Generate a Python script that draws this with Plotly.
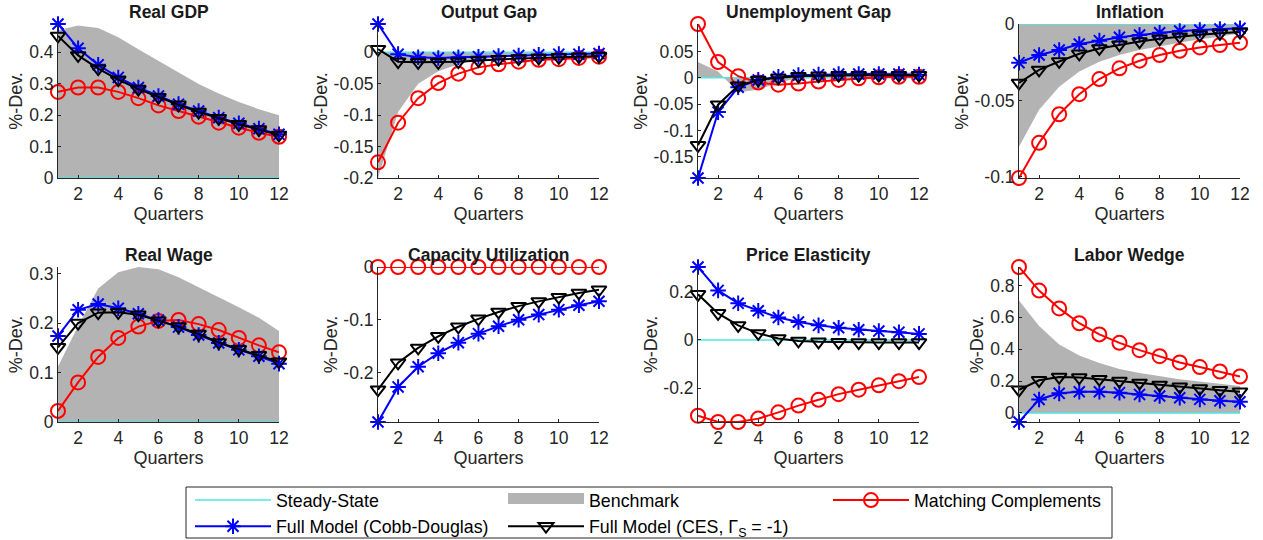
import plotly.graph_objects as go

# ---------------------------------------------------------------------------
# Impulse responses, 12 quarters, %-deviation from steady state
# ---------------------------------------------------------------------------
quarters = list(range(1, 13))

# Real GDP
gdp_bench = [0.470, 0.485, 0.477, 0.448, 0.410, 0.373, 0.336, 0.299, 0.269, 0.242, 0.219, 0.200]
gdp_match = [0.274, 0.288, 0.288, 0.274, 0.254, 0.231, 0.213, 0.195, 0.176, 0.160, 0.144, 0.131]
gdp_cd = [0.490, 0.413, 0.360, 0.320, 0.288, 0.261, 0.235, 0.213, 0.192, 0.174, 0.157, 0.139]
gdp_ces = [0.452, 0.390, 0.348, 0.313, 0.283, 0.257, 0.233, 0.210, 0.190, 0.171, 0.154, 0.137]

# Output gap
gap_bench = [-0.200, -0.095, -0.050, -0.030, -0.019, -0.012, -0.008, -0.005, -0.004, -0.003, -0.002, -0.001]
gap_match = [-0.175, -0.112, -0.073, -0.049, -0.034, -0.024, -0.019, -0.015, -0.012, -0.011, -0.009, -0.007]
gap_cd = [0.045, -0.003, -0.008, -0.009, -0.008, -0.007, -0.006, -0.005, -0.004, -0.003, -0.003, -0.002]
gap_ces = [0.005, -0.015, -0.016, -0.016, -0.015, -0.013, -0.011, -0.010, -0.009, -0.008, -0.007, -0.006]

# Unemployment gap
unemp_bench = [0.030, 0.012, -0.028, -0.022, -0.010, 0.000, 0.005, 0.008, 0.010, 0.010, 0.010, 0.010]
unemp_match = [0.102, 0.030, 0.003, -0.009, -0.013, -0.011, -0.007, -0.004, -0.001, 0.001, 0.002, 0.002]
unemp_cd = [-0.190, -0.065, -0.018, -0.004, 0.002, 0.005, 0.006, 0.007, 0.007, 0.007, 0.007, 0.006]
unemp_ces = [-0.128, -0.051, -0.015, -0.004, 0.000, 0.003, 0.004, 0.005, 0.005, 0.005, 0.005, 0.005]

# Inflation
infl_bench = [-0.0803, -0.056, -0.041, -0.031, -0.0247, -0.0203, -0.017, -0.0144, -0.0122, -0.010, -0.0083, -0.0061]
infl_match = [-0.1007, -0.0777, -0.059, -0.0459, -0.036, -0.029, -0.024, -0.0203, -0.0175, -0.0153, -0.0138, -0.0122]
infl_cd = [-0.0253, -0.0203, -0.017, -0.0131, -0.0109, -0.0087, -0.0072, -0.0057, -0.0046, -0.0039, -0.0033, -0.0028]
infl_ces = [-0.0385, -0.030, -0.0245, -0.0195, -0.016, -0.0135, -0.0115, -0.0097, -0.0083, -0.0071, -0.0061, -0.0053]

# Real wage
wage_bench = [0.1125, 0.194, 0.270, 0.303, 0.3135, 0.309, 0.293, 0.273, 0.252, 0.232, 0.211, 0.184]
wage_match = [0.0225, 0.080, 0.1316, 0.170, 0.193, 0.2045, 0.2065, 0.198, 0.186, 0.170, 0.155, 0.141]
wage_cd = [0.174, 0.227, 0.2386, 0.230, 0.219, 0.206, 0.192, 0.176, 0.160, 0.146, 0.133, 0.118]
wage_ces = [0.151, 0.200, 0.221, 0.222, 0.217, 0.205, 0.193, 0.178, 0.161, 0.147, 0.135, 0.122]

# Capacity utilization
util_bench = [0.0] * 12
util_match = [0.0] * 12
util_cd = [-0.293, -0.2267, -0.1886, -0.163, -0.143, -0.126, -0.112, -0.0997, -0.090, -0.0806, -0.0724, -0.0648]
util_ces = [-0.232, -0.181, -0.153, -0.131, -0.113, -0.098, -0.085, -0.074, -0.065, -0.057, -0.049, -0.043]

# Price elasticity
elast_bench = [0.0] * 12
elast_match = [-0.314, -0.340, -0.340, -0.326, -0.300, -0.272, -0.248, -0.2246, -0.206, -0.188, -0.171, -0.154]
elast_cd = [0.302, 0.205, 0.1516, 0.1207, 0.0926, 0.0744, 0.0604, 0.0505, 0.042, 0.0365, 0.032, 0.025]
elast_ces = [0.189, 0.110, 0.060, 0.027, 0.006, -0.004, -0.008, -0.010, -0.011, -0.011, -0.011, -0.011]

# Labor wedge
wedge_bench = [0.705, 0.546, 0.430, 0.360, 0.313, 0.275, 0.250, 0.2286, 0.2116, 0.197, 0.182, 0.169]
wedge_match = [0.916, 0.768, 0.656, 0.563, 0.493, 0.440, 0.394, 0.356, 0.317, 0.288, 0.260, 0.2286]
wedge_cd = [-0.057, 0.0847, 0.1228, 0.133, 0.133, 0.127, 0.116, 0.106, 0.095, 0.085, 0.076, 0.070]
wedge_ces = [0.145, 0.205, 0.225, 0.222, 0.212, 0.200, 0.188, 0.176, 0.164, 0.153, 0.143, 0.133]

# Tick marks
x_ticks = [2, 4, 6, 8, 10, 12]
gdp_ticks, gdp_labels = [0, 0.1, 0.2, 0.3, 0.4], ["0", "0.1", "0.2", "0.3", "0.4"]
gap_ticks, gap_labels = [-0.2, -0.15, -0.1, -0.05, 0], ["-0.2", "-0.15", "-0.1", "-0.05", "0"]
unemp_ticks, unemp_labels = [-0.15, -0.1, -0.05, 0, 0.05], ["-0.15", "-0.1", "-0.05", "0", "0.05"]
infl_ticks, infl_labels = [-0.1, -0.05, 0], ["-0.1", "-0.05", "0"]
wage_ticks, wage_labels = [0, 0.1, 0.2, 0.3], ["0", "0.1", "0.2", "0.3"]
util_ticks, util_labels = [-0.2, -0.1, 0], ["-0.2", "-0.1", "0"]
elast_ticks, elast_labels = [-0.2, 0, 0.2], ["-0.2", "0", "0.2"]
wedge_ticks, wedge_labels = [0, 0.2, 0.4, 0.6, 0.8], ["0", "0.2", "0.4", "0.6", "0.8"]

panels = [
    ("Real GDP", gdp_bench, gdp_match, gdp_cd, gdp_ces, gdp_ticks, gdp_labels),
    ("Output Gap", gap_bench, gap_match, gap_cd, gap_ces, gap_ticks, gap_labels),
    ("Unemployment Gap", unemp_bench, unemp_match, unemp_cd, unemp_ces, unemp_ticks, unemp_labels),
    ("Inflation", infl_bench, infl_match, infl_cd, infl_ces, infl_ticks, infl_labels),
    ("Real Wage", wage_bench, wage_match, wage_cd, wage_ces, wage_ticks, wage_labels),
    ("Capacity Utilization", util_bench, util_match, util_cd, util_ces, util_ticks, util_labels),
    ("Price Elasticity", elast_bench, elast_match, elast_cd, elast_ces, elast_ticks, elast_labels),
    ("Labor Wedge", wedge_bench, wedge_match, wedge_cd, wedge_ces, wedge_ticks, wedge_labels),
]

# ---------------------------------------------------------------------------
# Styling / geometry
# ---------------------------------------------------------------------------
W, H = 1263, 540
FONT = "Liberation Sans, Arial, Helvetica, sans-serif"
AX_COLOR = "#262626"
GRAY = "#b3b3b3"
CYAN = "#4fe6e6"
BLUE = "#0000ff"
RED = "#ff0000"
BLACK = "#000000"

col_left_px = [58, 378, 698, 1019]
col_width_px = 221
row_px = [(24, 178), (267, 422)]

# legend frame and the three legend columns (pixels)
legend_box_px = (186, 487, 1112, 538)
legend_col_px = [190, 503, 828]
legend_top_px = 482

fig = go.Figure()
layout = dict(
    width=W, height=H,
    margin=dict(l=0, r=0, t=0, b=0, autoexpand=False),
    paper_bgcolor="white", plot_bgcolor="white",
    font=dict(family=FONT, size=17, color=AX_COLOR),
    annotations=[],
    shapes=[],
)

for i, (title, bench, match, cd, ces, yt, yl) in enumerate(panels):
    r, c = divmod(i, 4)
    n = i + 1
    xa, ya = ("x" if n == 1 else f"x{n}"), ("y" if n == 1 else f"y{n}")

    fig.add_trace(go.Scatter(
        x=quarters, y=bench, xaxis=xa, yaxis=ya, mode="lines", fill="tozeroy",
        fillcolor=GRAY, line=dict(width=0, color=GRAY), name="Benchmark",
        showlegend=False, hoverinfo="skip"))
    fig.add_trace(go.Scatter(
        x=quarters, y=[0.0] * len(quarters), xaxis=xa, yaxis=ya, mode="lines",
        line=dict(width=1.5, color=CYAN), name="Steady-State",
        legend="legend", legendrank=1, showlegend=(i == 0)))
    fig.add_trace(go.Scatter(
        x=quarters, y=match, xaxis=xa, yaxis=ya, mode="lines+markers",
        line=dict(width=2, color=RED),
        marker=dict(symbol="circle-open", size=14, color=RED, line=dict(width=2, color=RED)),
        name="Matching Complements", legend="legend3", showlegend=(i == 0), cliponaxis=False))
    fig.add_trace(go.Scatter(
        x=quarters, y=cd, xaxis=xa, yaxis=ya, mode="lines+markers",
        line=dict(width=2, color=BLUE),
        marker=dict(symbol="asterisk-open", size=13, color=BLUE, line=dict(width=2, color=BLUE)),
        name="Full Model (Cobb-Douglas)", legend="legend", legendrank=2,
        showlegend=(i == 0), cliponaxis=False))
    fig.add_trace(go.Scatter(
        x=quarters, y=ces, xaxis=xa, yaxis=ya, mode="lines+markers",
        line=dict(width=2, color=BLACK),
        marker=dict(symbol="triangle-down-open", size=13, color=BLACK, line=dict(width=2, color=BLACK)),
        name="Full Model (CES, \u0393<sub>S</sub> = -1)", legend="legend2", legendrank=2,
        showlegend=(i == 0), cliponaxis=False))

    # tight limits over every series and the zero line
    everything = bench + match + cd + ces + [0.0]
    y_lo, y_hi = min(everything), max(everything)

    x0 = col_left_px[c] / W
    x1 = (col_left_px[c] + col_width_px) / W
    top_px, bot_px = row_px[r]
    y0 = 1 - bot_px / H
    y1 = 1 - top_px / H

    axis_common = dict(
        showline=True, linecolor=AX_COLOR, linewidth=1, mirror=False,
        showgrid=False, zeroline=False, ticks="inside", ticklen=3,
        tickwidth=1, tickcolor=AX_COLOR,
        tickfont=dict(family=FONT, size=17.5, color=AX_COLOR),
    )
    layout["xaxis" if n == 1 else f"xaxis{n}"] = dict(
        axis_common, domain=[x0, x1], anchor=ya, range=[1, 12],
        tickmode="array", tickvals=x_ticks, ticktext=[str(v) for v in x_ticks],
        title=dict(text="Quarters", font=dict(family=FONT, size=18, color=AX_COLOR), standoff=3),
    )
    layout["yaxis" if n == 1 else f"yaxis{n}"] = dict(
        axis_common, domain=[y0, y1], anchor=xa, range=[y_lo, y_hi],
        tickmode="array", tickvals=yt, ticktext=yl,
        title=dict(text="%-Dev.", font=dict(family=FONT, size=18, color=AX_COLOR), standoff=1),
    )
    layout["annotations"].append(dict(
        text=f"<b>{title}</b>", xref="paper", yref="paper",
        x=(x0 + x1) / 2, y=y1, yshift=12, xanchor="center", yanchor="middle",
        showarrow=False, font=dict(family=FONT, size=17.5, color="#1a1a1a"),
    ))

# legend-only patch for the benchmark area
fig.add_trace(go.Scatter(
    x=[None], y=[None], mode="lines", fill="tozeroy", fillcolor=GRAY,
    line=dict(width=10, color=GRAY), name="Benchmark",
    legend="legend2", legendrank=1, showlegend=True, hoverinfo="skip"))

legend_common = dict(
    orientation="v", xanchor="left", yanchor="top",
    y=1 - legend_top_px / H, bgcolor="rgba(0,0,0,0)", borderwidth=0,
    font=dict(family=FONT, size=17.8, color="#000000"),
    itemwidth=76, traceorder="normal", tracegroupgap=0,
)
layout["legend"] = dict(legend_common, x=legend_col_px[0] / W)
layout["legend2"] = dict(legend_common, x=legend_col_px[1] / W)
layout["legend3"] = dict(legend_common, x=legend_col_px[2] / W)

bx0, by0, bx1, by1 = legend_box_px
layout["shapes"].append(dict(
    type="rect", xref="paper", yref="paper",
    x0=bx0 / W, x1=bx1 / W, y0=1 - by1 / H, y1=1 - by0 / H,
    line=dict(color=AX_COLOR, width=1), fillcolor="rgba(0,0,0,0)", layer="below",
))

fig.update_layout(**layout)
fig.write_html("out.html")
